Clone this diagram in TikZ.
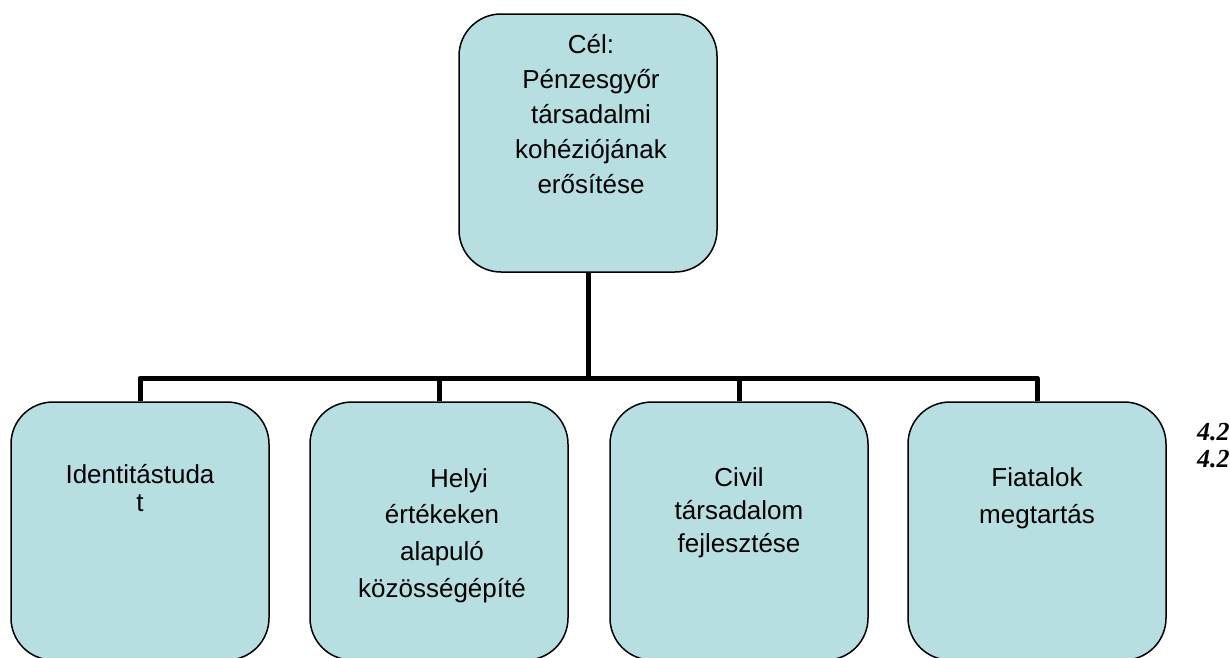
\documentclass[tikz,border=0pt]{standalone}
\usepackage{fontspec}
\setmainfont{Liberation Sans}
\newfontfamily\numfont{Liberation Serif}
\definecolor{boxfill}{RGB}{183,223,226}
\tikzset{
  box/.style={draw=black, line width=1.5pt, fill=boxfill, rounded corners=42pt,
    minimum width=258pt, minimum height=258pt, inner sep=0pt},
  conn/.style={draw=black, line width=5pt, line join=round},
  lbl/.style={align=center, inner sep=0pt, anchor=base,
    font=\fontsize{26}{35}\selectfont},
  numlbl/.style={inner sep=0pt, anchor=base west,
    font=\numfont\bfseries\itshape\fontsize{26}{26}\selectfont}
}
\begin{document}
\begin{tikzpicture}[x=1pt,y=-1pt]
\useasboundingbox (0,0) rectangle (1230,657);
\clip (0,0) rectangle (1230,657);
% boxes
\node[box] (top) at (588,143) {};
\node[box] (b1) at (140,531) {};
\node[box] (b2) at (439,531) {};
\node[box] (b3) at (739,531) {};
\node[box] (b4) at (1037,531) {};
% connectors
\coordinate (bar) at (588,378);
\draw[conn] (top.south) -- (bar);
\draw[conn] (b1.north) |- (bar);
\draw[conn] (b2.north) |- (bar);
\draw[conn] (b3.north) |- (bar);
\draw[conn] (b4.north) |- (bar);
% texts (anchor base = baseline of the last line)
\node[lbl] (ttop) at (591,193) {Cél:\\Pénzesgyőr\\társadalmi\\kohéziójának\\erősítése};
\node[lbl,font=\fontsize{26}{28}\selectfont] (t1) at (140,511) {Identitástuda\\t};
\node[lbl] (t2a) at (459,487) {Helyi};
\node[lbl,font=\fontsize{26}{37}\selectfont] (t2b) at (442,597) {értékeken\\alapuló\\közösségépíté};
\node[lbl,font=\fontsize{26}{33}\selectfont] (t3) at (739,552) {Civil\\társadalom\\fejlesztése};
\node[lbl,font=\fontsize{26}{37}\selectfont] (t4) at (1037,523) {Fiatalok\\megtartás};
\node[numlbl] (n1) at (1197,440) {4.2};
\node[numlbl] (n2) at (1197,467) {4.2};
\end{tikzpicture}
\end{document}
